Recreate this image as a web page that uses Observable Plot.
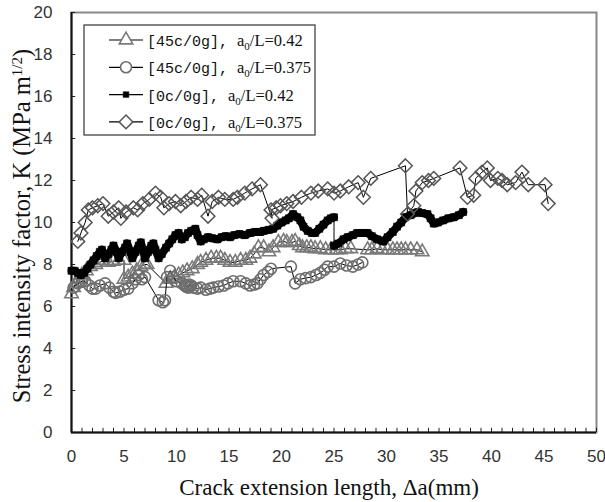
<!DOCTYPE html>
<html><head><meta charset="utf-8">
<script src="https://cdn.jsdelivr.net/npm/d3@7"></script>
<script src="https://cdn.jsdelivr.net/npm/@observablehq/plot@0.6"></script>
<style>body{margin:0;background:#fff}svg{display:block}</style>
</head><body><div id="chart"></div>
<script>
// ---- data ----
const legendPrefix = ["[45c/0g], ", "[45c/0g], ", "[0c/0g], ", "[0c/0g], "];
const legendRatio = ["0.42", "0.375", "0.42", "0.375"];

// [45c/0g], a0/L=0.42  (open triangles)
const triX = [0.0,0.2,0.4,0.7,1.0,1.4,1.8,2.3,2.7,3.0,3.5,4.0,4.5,5.0,5.0,5.4,5.8,6.2,6.6,7.0,7.2,9.0,9.4,9.8,10.2,10.6,11.0,11.5,12.0,12.3,12.8,13.3,13.8,14.2,14.6,15.1,15.6,16.1,16.6,17.0,17.4,17.8,18.3,18.8,19.2,19.7,20.2,20.5,21.0,21.3,21.7,22.0,22.4,22.8,23.2,23.7,24.2,24.7,25.2,25.6,26.1,26.6,28.2,28.6,29.1,29.6,30.1,30.6,31.0,31.4,31.8,32.3,32.9,33.4];
const triY = [6.6,6.9,7.1,7.3,7.5,7.7,7.9,8.0,8.1,8.2,8.1,8.15,8.2,8.2,7.3,7.4,7.55,7.7,7.9,8.0,8.0,7.1,7.3,7.4,7.5,7.6,7.7,7.8,8.0,8.1,8.2,8.3,8.3,8.3,8.2,8.1,8.1,8.2,8.2,8.3,8.5,8.8,8.8,8.6,8.8,9.05,9.1,9.05,9.05,9.1,8.9,8.8,8.8,8.8,8.75,8.75,8.7,8.7,8.7,8.7,8.75,8.75,8.7,8.7,8.75,8.7,8.7,8.7,8.7,8.7,8.7,8.7,8.7,8.6];

// [45c/0g], a0/L=0.375  (open circles)
const cirX = [0.2,0.6,1.0,1.3,1.7,2.0,2.3,2.7,3.2,3.6,4.0,4.2,4.6,5.0,5.4,5.8,6.1,6.4,6.7,7.0,8.3,8.7,8.9,9.1,9.4,9.7,10.0,10.5,10.8,10.9,11.0,11.1,11.2,11.3,11.4,11.6,12.0,12.3,12.8,13.2,13.5,14.0,14.5,14.9,15.4,16.1,16.6,17.0,17.4,17.7,18.0,18.3,18.7,19.0,20.9,21.3,21.8,22.3,22.8,23.3,23.7,24.1,24.4,25.0,25.6,26.2,26.8,27.3,27.7];
const cirY = [6.9,7.1,7.2,7.2,7.0,6.85,6.85,7.0,7.1,6.9,6.7,6.65,6.7,6.8,6.85,7.1,7.3,7.5,7.3,7.4,6.3,6.2,6.3,7.4,7.7,7.4,7.2,7.1,7.0,6.95,7.0,6.9,7.05,6.95,7.0,6.9,6.85,6.9,6.8,6.85,6.9,6.95,7.0,7.1,7.2,7.2,7.1,7.0,7.05,7.1,7.3,7.5,7.65,7.8,7.9,7.1,7.3,7.35,7.4,7.5,7.6,7.75,7.9,7.9,8.05,7.95,7.9,8.0,8.1];

// [0c/0g], a0/L=0.42  (filled squares)
const sqX = [0.0,0.3,0.6,0.9,1.2,1.5,1.8,2.1,2.4,2.7,2.9,3.2,3.5,3.8,4.0,4.3,4.5,4.8,5.1,5.3,5.6,5.8,6.1,6.4,6.6,6.8,7.0,7.3,7.6,7.8,8.0,8.3,8.6,9.0,9.3,9.6,9.9,10.2,10.5,10.8,11.1,11.4,11.8,12.0,12.3,12.6,13.0,13.4,13.9,14.3,14.7,15.1,15.5,16.0,16.5,17.0,17.5,18.0,18.3,18.8,19.2,19.6,20.0,20.4,20.7,21.1,21.5,21.8,22.1,22.5,22.9,23.2,23.6,24.0,24.4,24.7,25.0,25.0,25.4,25.9,26.3,26.8,27.2,27.7,28.2,28.6,29.1,29.7,30.1,30.6,31.0,31.4,31.8,32.3,32.7,33.0,33.4,33.9,34.2,34.5,34.9,35.4,35.9,36.4,36.9,37.3];
const sqY = [7.7,7.7,7.6,7.5,7.6,7.8,8.0,8.2,8.4,8.6,8.7,8.3,8.5,8.7,8.9,8.6,8.3,8.6,8.8,9.0,8.6,8.3,8.6,8.9,9.05,8.7,8.3,8.6,8.9,9.0,8.7,8.3,8.5,8.8,9.0,9.2,9.4,9.5,9.2,9.3,9.5,9.6,9.7,9.4,9.1,9.2,9.3,9.25,9.2,9.3,9.35,9.3,9.4,9.45,9.4,9.5,9.55,9.55,9.6,9.65,9.7,9.85,10.0,10.1,10.2,10.4,10.25,10.1,9.8,9.6,9.5,9.5,9.7,9.9,10.1,10.2,10.25,8.9,9.0,9.2,9.3,9.4,9.5,9.5,9.5,9.35,9.2,9.1,9.3,9.55,9.8,10.0,10.25,10.35,10.45,10.5,10.45,10.4,10.2,9.95,10.0,10.1,10.2,10.25,10.35,10.5];

// [0c/0g], a0/L=0.375  (open diamonds)
const diaX = [0.6,0.9,1.3,1.6,2.0,2.5,3.0,3.5,4.0,4.5,4.7,5.2,5.9,6.3,6.8,7.4,8.0,8.5,8.8,9.3,9.9,10.4,10.9,11.4,12.0,12.4,13.0,13.4,14.0,14.6,15.4,15.8,16.5,17.2,18.0,19.1,19.0,19.5,19.9,20.5,21.1,21.9,22.8,23.5,24.4,25.0,25.6,26.4,27.3,27.8,28.5,31.8,32.0,32.6,32.8,33.4,34.0,34.5,37.0,37.7,38.3,38.5,39.1,39.6,39.9,40.6,41.0,41.5,42.3,42.9,43.5,45.1,45.4];
const diaY = [9.1,9.5,10.0,10.6,10.7,10.8,10.9,10.3,10.5,10.7,10.2,10.5,10.7,10.6,10.9,11.1,11.4,11.2,10.7,10.9,11.0,10.8,11.0,11.2,11.1,11.3,10.3,11.0,11.2,11.1,11.1,11.2,11.4,11.6,11.8,10.2,10.6,10.7,10.8,10.9,11.0,11.2,11.4,11.5,11.6,11.4,11.5,11.7,11.9,11.2,12.1,12.7,10.4,10.8,11.5,11.9,12.0,12.1,12.6,11.2,11.3,12.1,12.4,12.6,12.0,12.1,12.0,11.8,11.9,12.4,11.8,11.8,10.9];

const xMajorTicks = [0,5,10,15,20,25,30,35,40,45,50];
const xMinorTicks = d3.range(0, 51, 1);
const yTicks = [0,2,4,6,8,10,12,14,16,18,20];

const xLabel = "Crack extension length, \u0394a(mm)";
const yLabelMain = "Stress intensity factor, K (MPa m";
const yLabelSup = "1/2";

// ---- build ----
const rows = (xs, ys) => xs.map((x, i) => ({x, y: ys[i]}));
const tri = rows(triX, triY), cir = rows(cirX, cirY), dia = rows(diaX, diaY);
// square series: mark a new segment where the record jumps vertically (same x repeated)
let seg = 0;
const sq = sqX.map((x, i) => { if (i > 0 && x === sqX[i - 1]) seg++; return {x, y: sqY[i], seg}; });

const tickFont = "Liberation Sans, Arial, sans-serif";
const monoFont = "Liberation Mono, DejaVu Sans Mono, monospace";
const serif = "Liberation Serif, Times New Roman, serif";

const styles = [
  {symbol: "triangle", r: 5, fill: "none", stroke: "#7a7a7a", sw: 1.6},
  {symbol: "circle", r: 5.5, fill: "none", stroke: "#6e6e6e", sw: 1.6},
  {symbol: "square", r: 4, fill: "#000", stroke: "#000", sw: 0.5},
  {symbol: "diamond2", r: 6.2, fill: "none", stroke: "#555", sw: 1.5}
];
const datasets = [tri, cir, sq, dia];

// inward tick length expressed in axis units (≈4 px)
const xTickLen = 0.2, yTickLen = 0.4;

const marks = [
  Plot.frame({stroke: "#888", strokeWidth: 2}),
  Plot.ruleX(xMinorTicks, {x: d => d, y1: 0, y2: xTickLen, stroke: "#222", strokeWidth: 1}),
  Plot.ruleY(yTicks, {y: d => d, x1: 0, x2: yTickLen, stroke: "#222", strokeWidth: 1}),
  Plot.axisX({ticks: xMajorTicks, tickSize: 0, tickPadding: 17, fontSize: 17, fontFamily: tickFont, fill: "#333", label: null}),
  Plot.axisY({ticks: yTicks, tickSize: 0, tickPadding: 19, fontSize: 17, fontFamily: tickFont, fill: "#333", label: null}),
  Plot.ruleX([0], {stroke: "#111", strokeWidth: 2}),
  Plot.ruleY([0], {stroke: "#111", strokeWidth: 2})
];
datasets.forEach((d, i) => {
  const s = styles[i];
  marks.push(Plot.line(d, {x: "x", y: "y", stroke: "#000", strokeWidth: 1}));
  if (s.symbol === "square") {
    // the dense square markers merge into a solid band along each segment
    marks.push(Plot.line(d, {x: "x", y: "y", z: "seg", stroke: "#000", strokeWidth: 8}));
  }
  marks.push(Plot.dot(d, {x: "x", y: "y", symbol: () => s.symbol, r: s.r, fill: s.fill, stroke: s.stroke, strokeWidth: s.sw}));
});

const svg = Plot.plot({
  width: 605, height: 502,
  marginLeft: 71, marginRight: 9, marginTop: 12, marginBottom: 70,
  style: {background: "#fff"},
  x: {domain: [0, 50], label: null},
  y: {domain: [0, 20], label: null},
  symbol: {type: "identity"},
  marks
});
document.getElementById("chart").appendChild(svg);

// ---- axis titles and legend ----
const g = d3.select(svg);
g.append("text").attr("x", 329).attr("y", 495).attr("text-anchor", "middle")
  .attr("font-family", serif).attr("font-size", 23).attr("fill", "#111").text(xLabel);
const yl = g.append("text").attr("transform", "translate(30,226) rotate(-90)").attr("text-anchor", "middle")
  .attr("font-family", serif).attr("font-size", 24.5).attr("fill", "#111");
yl.append("tspan").text(yLabelMain);
yl.append("tspan").attr("dy", -8).attr("font-size", 15).text(yLabelSup);
yl.append("tspan").attr("dy", 8).text(")");

const lg = g.append("g");
lg.append("rect").attr("x", 84).attr("y", 25).attr("width", 231).attr("height", 110)
  .attr("fill", "#fff").attr("stroke", "#333").attr("stroke-width", 1.2);
const symMap = {triangle: d3.symbolTriangle, circle: d3.symbolCircle, square: d3.symbolSquare, diamond2: d3.symbolDiamond2};
styles.forEach((s, i) => {
  const cy = 40 + i * 27.3;
  lg.append("line").attr("x1", 109).attr("x2", 143).attr("y1", cy).attr("y2", cy).attr("stroke", "#000").attr("stroke-width", 1.2);
  const lr = s.symbol === "square" ? 3.2 : s.r;
  lg.append("path").attr("transform", `translate(126,${cy})`)
    .attr("d", d3.symbol(symMap[s.symbol], lr * lr * Math.PI)())
    .attr("fill", s.fill === "none" ? "#fff" : s.fill).attr("stroke", s.stroke).attr("stroke-width", s.sw);
  const t = lg.append("text").attr("x", 147).attr("y", cy + 6).attr("fill", "#111").attr("text-anchor", "start");
  t.append("tspan").attr("font-family", monoFont).attr("font-size", 15).text(legendPrefix[i]);
  t.append("tspan").attr("font-family", serif).attr("font-size", 16.5).text("a");
  t.append("tspan").attr("font-family", serif).attr("font-size", 11).attr("dy", 4).text("0");
  t.append("tspan").attr("font-family", serif).attr("font-size", 16.5).attr("dy", -4).text("/L=" + legendRatio[i]);
});
</script>
</body></html>
